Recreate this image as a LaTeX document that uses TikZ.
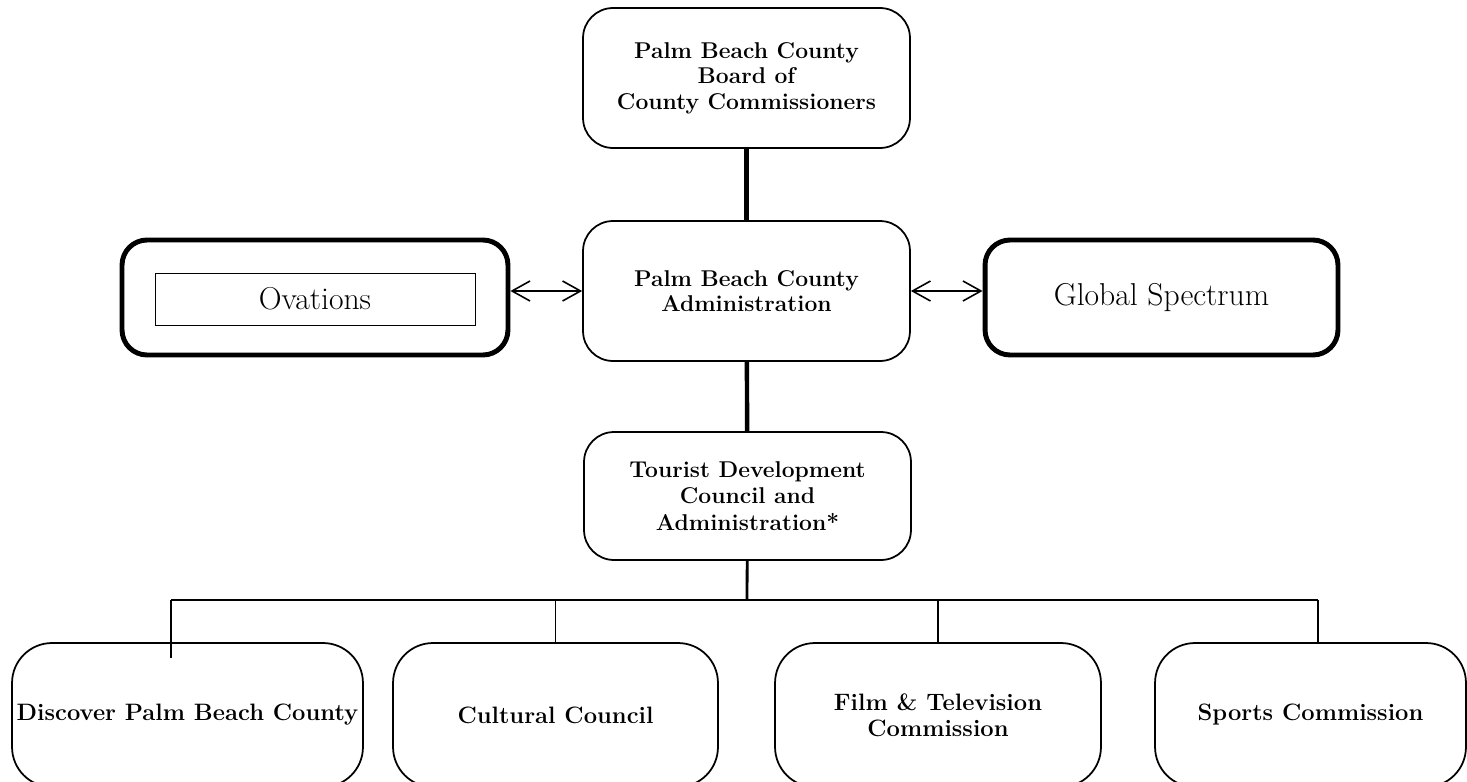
\documentclass[tikz,border=0pt]{standalone}
\usepackage{tikz}
\usetikzlibrary{arrows.meta}

\begin{document}
\begin{tikzpicture}[x=0.02cm, y=-0.02cm, >={Straight Barb[length=3.6mm,width=4mm]},
  unit/.style={draw, rounded corners=0.6cm, line width=1pt, align=center, inner sep=0pt,
    minimum width=6.54cm, minimum height=2.8cm, font=\fontsize{13}{14.5}\selectfont\bfseries},
  partner/.style={draw, rounded corners=0.5cm, line width=2.8pt, inner sep=0pt,
    minimum height=2.3cm, font=\fontsize{18}{20}\selectfont},
  agency/.style={unit, rounded corners=0.8cm, minimum height=2.88cm,
    font=\fontsize{13.5}{15}\selectfont\bfseries},
  trunk/.style={line width=2.5pt},
  branch/.style={line width=0.6pt}]
  \clip (0,0) rectangle (1467,781);

  % top of the chart
  \node[unit] (board) at (746.5,78) {Palm Beach County\\ Board of\\ County Commissioners};
  \node[unit] (admin) at (746.5,291) {Palm Beach County\\ Administration};
  \node[unit, minimum height=2.56cm, font=\fontsize{13}{15}\selectfont\bfseries] (tdc) at (747.5,496)
    {Tourist Development\\ Council and\\ Administration*};
  \draw[trunk] (board) -- (admin);
  \draw[trunk] (admin) -- (tdc);

  % partners on both sides
  \node[partner, minimum width=7.72cm] (ovations) at (315,297.5) {};
  \node[draw, line width=0.5pt, minimum width=6.4cm, minimum height=1.04cm, inner sep=0pt,
    font=\fontsize{18}{20}\selectfont] (ovtext) at (315,299) {Ovations};
  \node[partner, minimum width=7.06cm] (global) at (1161.5,297.5) {Global Spectrum};
  \draw[<->, line width=0.9pt] (admin.west -| ovations.east) -- (admin.west);
  \draw[<->, line width=0.9pt] (admin.east) -- (admin.east -| global.west);

  % agencies below
  \node[agency, minimum width=7.02cm] (dpbc) at (187.5,715) {Discover Palm Beach County};
  \node[agency, minimum width=6.5cm] (cultural) at (555.5,715) {Cultural Council};
  \node[agency, minimum width=6.52cm] (film) at (938,715) {Film \& Television\\ Commission};
  \node[agency, minimum width=6.22cm] (sports) at (1310.5,715) {Sports Commission};

  \coordinate (bar) at (747,600);
  \coordinate (barl) at (171,600);
  \coordinate (barr) at (1318,600);
  \coordinate (dpbcend) at (171,658);
  \draw[line width=1.6pt] (tdc) -- (bar);
  \draw[line width=1.2pt] (barl) -- (barr);
  \draw[branch] (barl) -- (dpbcend);
  \draw[branch] (cultural.north |- bar) -- (cultural.north);
  \draw[branch] (film.north |- bar) -- (film.north);
  \draw[branch] (barr) -- (barr |- sports.north);
\end{tikzpicture}
\end{document}
